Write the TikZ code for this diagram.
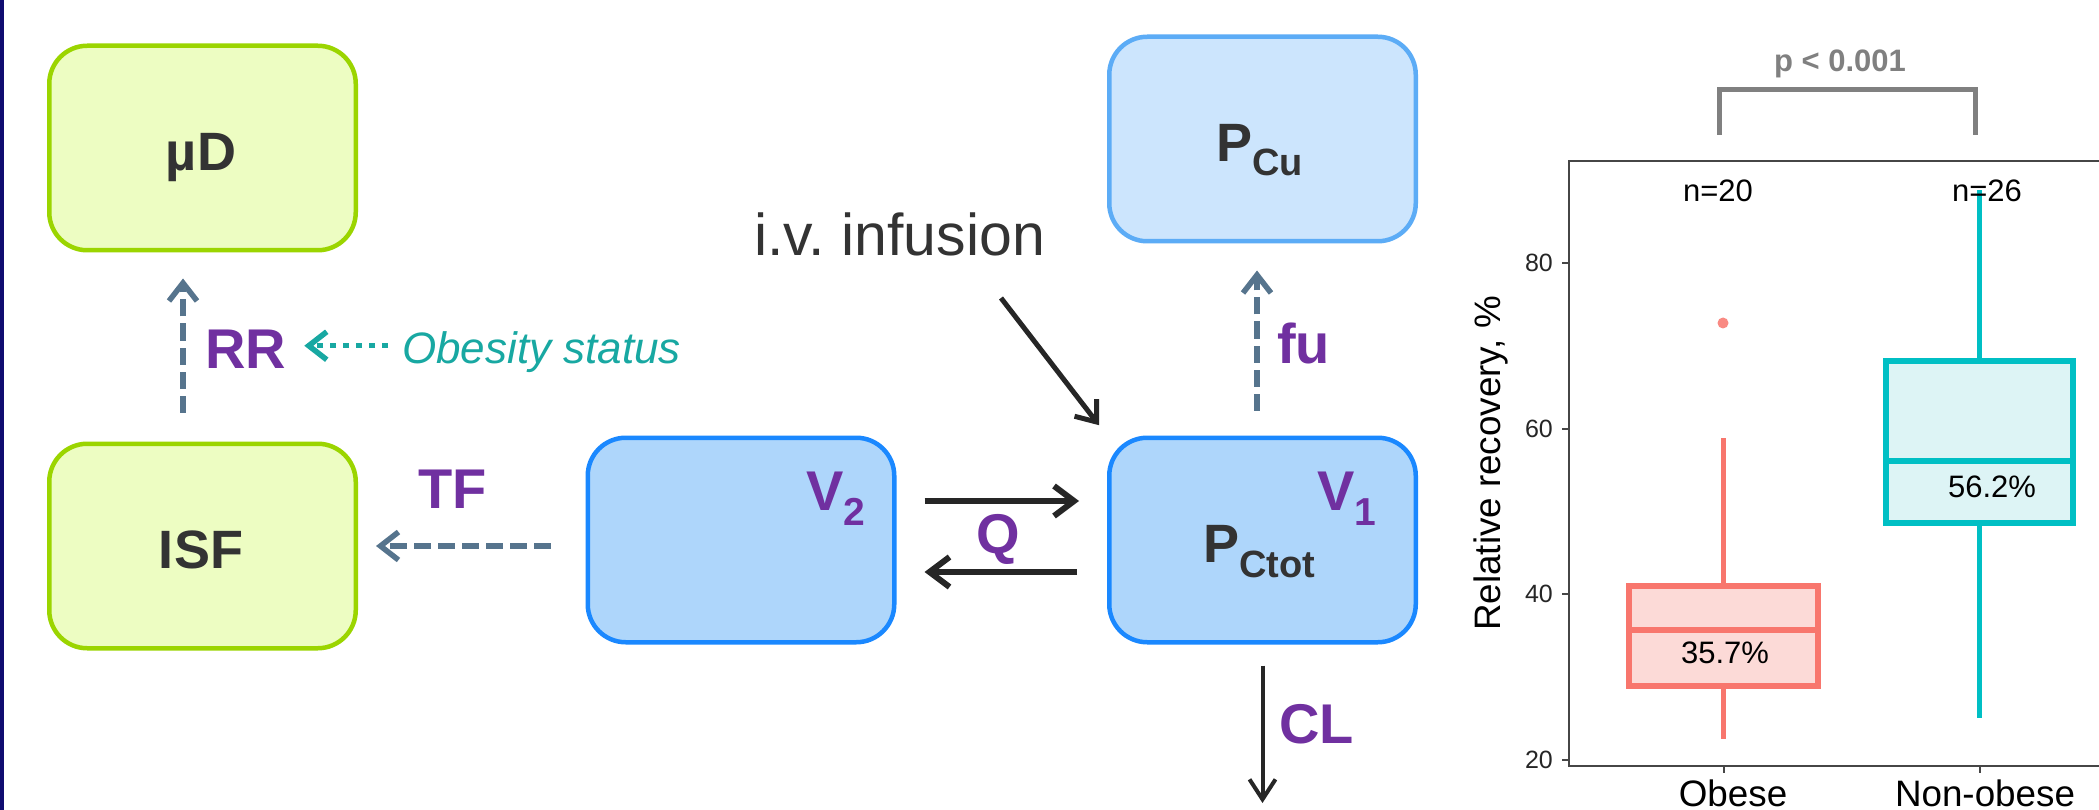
\documentclass[tikz,border=0pt]{standalone}
\usepackage{fontspec}
\setmainfont{Liberation Sans}
\usetikzlibrary{arrows.meta,calc}
\frenchspacing
\definecolor{navyedge}{RGB}{16,12,112}
\definecolor{greenline}{RGB}{155,213,0}
\definecolor{greenfill}{RGB}{237,253,194}
\definecolor{blueline}{RGB}{26,136,255}
\definecolor{bluefill}{RGB}{174,214,251}
\definecolor{lblueline}{RGB}{92,172,246}
\definecolor{lbluefill}{RGB}{204,229,253}
\definecolor{paramcol}{RGB}{112,48,160}
\definecolor{darktext}{RGB}{51,51,51}
\definecolor{dashcol}{RGB}{86,116,141}
\definecolor{tealcol}{RGB}{24,168,162}
\definecolor{arrowdark}{RGB}{38,38,38}
\definecolor{obeseline}{RGB}{248,118,109}
\definecolor{obesefill}{RGB}{252,218,215}
\definecolor{nonline}{RGB}{0,191,196}
\definecolor{nonfill}{RGB}{221,244,245}
\definecolor{pgray}{RGB}{128,128,128}
\definecolor{axiscol}{RGB}{70,70,70}
\begin{document}
\begin{tikzpicture}[x=1pt,y=-1pt,
  declare function={yv(\v)=760-(\v-20)*8.283;},
  compbox/.style={rounded corners=38pt, line width=4.5pt, minimum width=306.5pt, minimum height=204.5pt, inner sep=0pt},
  boxlabel/.style={font=\fontsize{54}{54}\selectfont\bfseries, text=darktext, inner sep=0pt},
  param/.style={font=\fontsize{56}{56}\selectfont\bfseries, text=paramcol, inner sep=0pt, anchor=base west},
  dasharrow/.style={draw=dashcol, line width=5.5pt, dash pattern=on 17pt off 7pt, -{Straight Barb[length=18pt,width=28pt]}},
  dotarrow/.style={draw=tealcol, line width=5.5pt, dash pattern=on 6pt off 7pt, -{Straight Barb[length=18pt,width=28pt]}},
  qarrow/.style={draw=arrowdark, line width=6pt, -{Straight Barb[length=20pt,width=30pt]}},
  clarrow/.style={draw=arrowdark, line width=4pt, -{Straight Barb[length=20pt,width=26pt]}},
  ivarrow/.style={draw=arrowdark, line width=5pt, -{Straight Barb[length=18pt,width=28pt]}},
  plottext/.style={font=\fontsize{31}{31}\selectfont, text=black, inner sep=0pt, anchor=base},
  cattext/.style={font=\fontsize{36.8}{36.8}\selectfont, text=black, inner sep=0pt},
  ticklabel/.style={font=\fontsize{25}{25}\selectfont, text=black!85, inner sep=0pt, anchor=east}
]
\useasboundingbox (0,0) rectangle (2099,810);
\fill[white] (0,0) rectangle (2099,810);
\fill[navyedge] (0,0) rectangle (4,810);

% compartments
\node[compbox, draw=greenline, fill=greenfill] (mud) at (202.5,148) {};
\node[compbox, draw=greenline, fill=greenfill] (isf) at (202.5,546) {};
\node[compbox, draw=blueline, fill=bluefill] (v2) at (741,540) {};
\node[compbox, draw=blueline, fill=bluefill] (pctot) at (1262.5,540) {};
\node[compbox, draw=lblueline, fill=lbluefill] (pcu) at (1262.5,139) {};

\node[boxlabel, anchor=base] (mudt) at (201,171) {µD};
\node[boxlabel, anchor=base] (isft) at (201,568) {ISF};
\node[boxlabel, anchor=base west] (pcut) at (1216,162) {P\raisebox{-14pt}{\fontsize{38}{38}\selectfont Cu}};
\node[boxlabel, anchor=base west] (pctott) at (1203,562) {P\raisebox{-15pt}{\fontsize{38}{38}\selectfont Ctot}};

\node[param] (v2t) at (806,510) {V\raisebox{-15pt}{\fontsize{39}{39}\selectfont 2}};
\node[param] (v1t) at (1317,510) {V\raisebox{-15pt}{\fontsize{39}{39}\selectfont 1}};
\node[param] (rr) at (205,368) {RR};
\node[param] (tf) at (418,508) {TF};
\node[param] (fu) at (1277,363) {fu};
\node[param] (q) at (976,553) {Q};
\node[param] (cl) at (1279,743) {CL};

\node[font=\fontsize{44}{44}\selectfont\itshape, text=tealcol, anchor=base west, inner sep=0pt] (obes) at (402,363) {Obesity status};
\node[font=\fontsize{59}{59}\selectfont, text=darktext, anchor=base west, inner sep=0pt] (iv) at (754,256) {i.v. infusion};

% connectors
\draw[dasharrow, shorten <=29pt, shorten >=26pt] ([xshift=-19.5pt]isf.north) -- ([xshift=-19.5pt]mud.south);
\draw[dasharrow, shorten <=35pt, shorten >=18pt] ([yshift=-6pt]v2.west) -- (isf.east);
\draw[dotarrow, shorten <=14pt, shorten >=18pt] ($(obes.west |- rr.east)+(0,-3)$) -- ($(rr.east)+(0,-3)$);
\draw[dasharrow, shorten <=25pt, shorten >=27pt] ([xshift=-5.5pt]pctot.north) -- ([xshift=-5.5pt]pcu.south);
\draw[qarrow, shorten <=28pt, shorten >=28pt] ([yshift=39pt]v2.east) -- ([yshift=39pt]pctot.west);
\draw[qarrow, shorten <=30pt, shorten >=28pt] ([yshift=-32pt]pctot.west) -- ([yshift=-32pt]v2.east);
\coordinate (clend) at (1262.5,803);
\draw[clarrow, shorten <=21pt] (pctot.south) -- (clend);
\coordinate (ivstart) at (1001,298);
\draw[ivarrow, shorten >=13pt] (ivstart) -- (pctot.north west);

% box plot
\draw[axiscol, line width=2pt] (2099,161) -- (1569,161) -- (1569,766) -- (2099,766);
\foreach \v in {20,40,60,80} {
  \draw[axiscol, line width=2pt] (1562,{yv(\v)}) -- (1569,{yv(\v)});
  \node[ticklabel] (tick\v) at (1553,{yv(\v)}) {\v};
}
\draw[axiscol, line width=2pt] (1723.5,766) -- (1723.5,773);
\draw[axiscol, line width=2pt] (1979.5,766) -- (1979.5,773);

\draw[obeseline, line width=5pt] (1723.5,586) -- (1723.5,438);
\draw[obeseline, line width=5pt] (1723.5,686) -- (1723.5,739);
\draw[obeseline, fill=obesefill, line width=6pt] (1629,586) rectangle (1818,686);
\draw[obeseline, line width=6pt] (1629,630) -- (1818,630);
\fill[obeseline!85!white] (1723,323) circle[radius=5.5pt];

\draw[nonline, line width=5pt] (1979.5,361) -- (1979.5,190);
\draw[nonline, line width=5pt] (1979.5,523) -- (1979.5,718);
\draw[nonline, fill=nonfill, line width=6pt] (1886,361) rectangle (2073,523);
\draw[nonline, line width=6pt] (1886,461) -- (2073,461);

\node[plottext] (n20) at (1718,202) {n=20};
\node[plottext] (n26) at (1987,202) {n=26};
\node[plottext] (med1) at (1725,663) {35.7\%};
\node[plottext] (med2) at (1992,497) {56.2\%};
\node[cattext, anchor=base] (cat1) at (1733,806) {Obese};
\node[cattext, anchor=base] (cat2) at (1985,806) {Non-obese};
\node[cattext, rotate=90] (ylab) at (1491,463.5) {Relative recovery, \%};

\node[font=\fontsize{31}{31}\selectfont\bfseries, text=pgray, anchor=base, inner sep=0pt] (pval) at (1840,72) {p < 0.001};
\draw[pgray, line width=5pt] (1719,135) -- (1719,90) -- (1975,90) -- (1975,135);
\end{tikzpicture}
\end{document}
